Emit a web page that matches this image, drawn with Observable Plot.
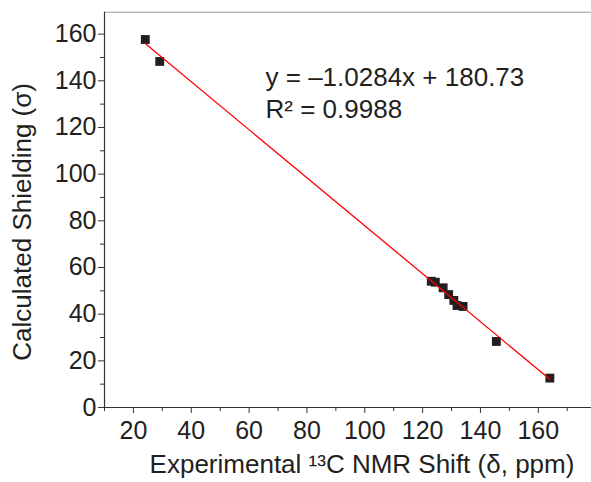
<!DOCTYPE html>
<html><head><meta charset="utf-8">
<script src="https://cdn.jsdelivr.net/npm/d3@7"></script>
<script src="https://cdn.jsdelivr.net/npm/@observablehq/plot@0.6"></script>
<style>body{margin:0;background:#fff}</style>
</head><body><div id="chart"></div>
<script>
// Data
const expShift   = [24.1, 29.1, 123.0, 124.4, 127.1, 129.0, 130.8, 131.9, 134.0, 145.5, 164.0];
const calcShield = [157.7, 148.3, 54.1, 53.7, 51.3, 48.4, 45.9, 43.7, 43.3, 28.3, 12.6];
const fitSlope = -1.0284;
const fitIntercept = 180.73;
const equationLines = ["y = \u20131.0284x + 180.73", "R\u00b2 = 0.9988"];
const xLabel = "Experimental \u00b9\u00b3C NMR Shift (\u03b4, ppm)";
const yLabel = "Calculated Shielding (\u03c3)";
const xTicks = [20, 40, 60, 80, 100, 120, 140, 160];
const xMinor = [10, 30, 50, 70, 90, 110, 130, 150, 170];
const yTicks = [0, 20, 40, 60, 80, 100, 120, 140, 160];
const yMinor = [10, 30, 50, 70, 90, 110, 130, 150];
const xDomain = [10, 178.4];
const yDomain = [0, 169.4];

const points = expShift.map((x, i) => ({x, y: calcShield[i]}));
const fit = d3.extent(expShift).map(x => ({x, y: fitSlope * x + fitIntercept}));

const ink = "#231f20";
const chart = Plot.plot({
  width: 591, height: 482,
  marginLeft: 104, marginRight: 0, marginTop: 11.7, marginBottom: 75,
  style: {fontFamily: "'Liberation Sans', Arial, sans-serif", fontSize: "25px", color: ink, background: "#fff"},
  x: {domain: xDomain},
  y: {domain: yDomain},
  marks: [
    Plot.ruleY([yDomain[1]], {stroke: "#9a9a9a", strokeWidth: 1}),
    Plot.ruleX([xDomain[0]], {stroke: "#333", strokeWidth: 1.2}),
    Plot.ruleY([yDomain[0]], {stroke: "#333", strokeWidth: 1.2}),
    Plot.axisX({ticks: xMinor, tickSize: 4, tickFormat: () => "", label: null, stroke: "#333"}),
    Plot.axisX({ticks: xTicks, tickSize: 6, tickPadding: 8, label: null, stroke: "#333", fontSize: 25}),
    Plot.axisY({ticks: yMinor, tickSize: 4, tickFormat: () => "", label: null, stroke: "#333"}),
    Plot.axisY({ticks: yTicks, tickSize: 6, tickPadding: 2, label: null, stroke: "#333", fontSize: 25}),
    Plot.dot(points, {x: "x", y: "y", symbol: "square", r: 5, fill: ink, stroke: null}),
    Plot.line(fit, {x: "x", y: "y", stroke: "#ff0000", strokeWidth: 1.3}),
    Plot.text([equationLines.join("\n")], {frameAnchor: "top-left", textAnchor: "start", lineAnchor: "top", dx: 161, dy: 50.5, lineHeight: 1.24, fill: ink, fontSize: 26}),
    Plot.text([xLabel], {frameAnchor: "bottom", textAnchor: "middle", lineAnchor: "top", dx: 14, dy: 47, fill: ink, fontSize: 26}),
    Plot.text([yLabel], {frameAnchor: "left", textAnchor: "middle", rotate: -90, dx: -82, dy: 12, fill: ink, fontSize: 26})
  ]
});
document.getElementById("chart").appendChild(chart);
</script>
</body></html>
